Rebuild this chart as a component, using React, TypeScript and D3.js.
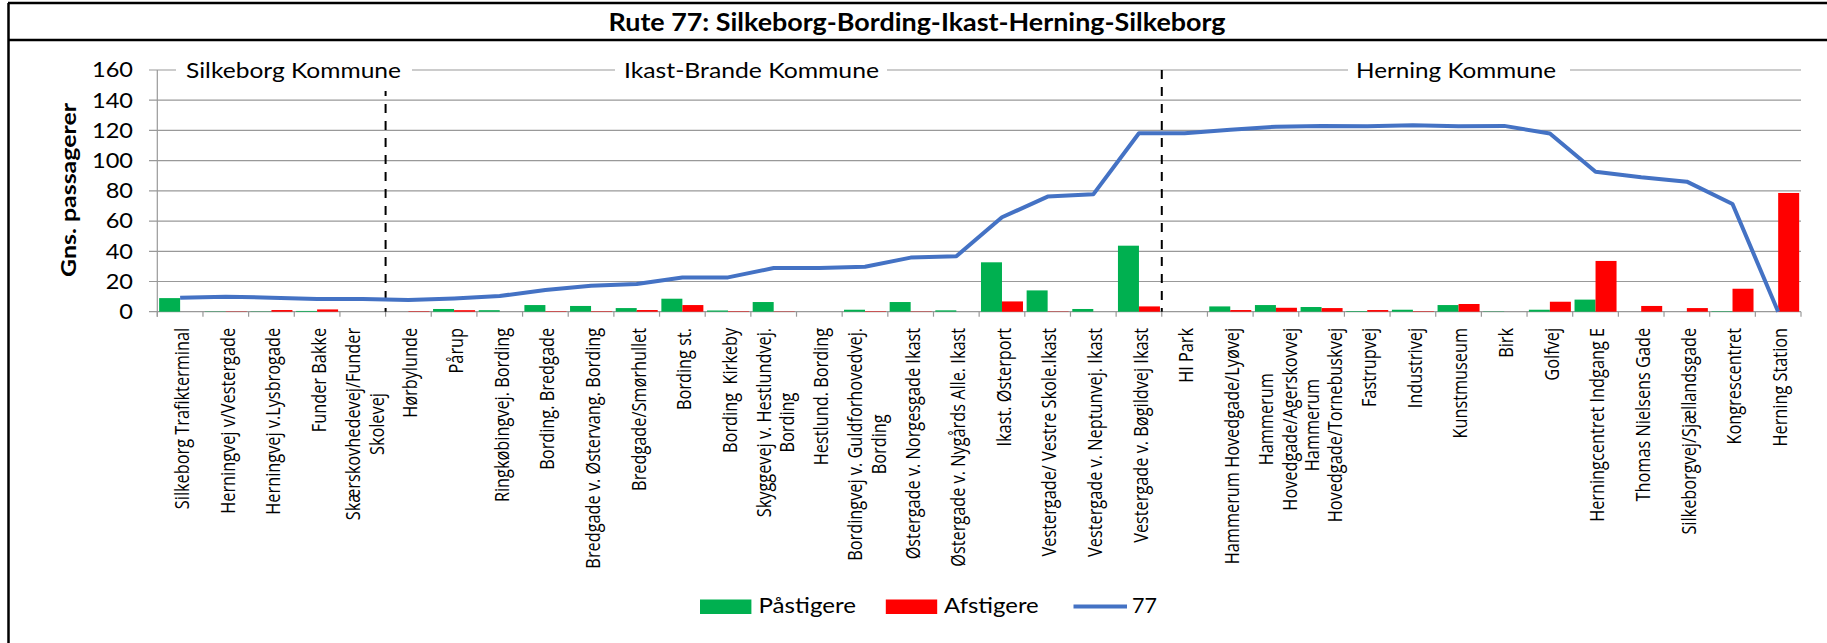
import React from 'react';
import * as d3 from 'd3';

// stops on the route, in driving order ("\n" = line break in the axis label)
const stops = [
  'Silkeborg Trafikterminal',
  'Herningvej v/Vestergade',
  'Herningvej v.Lysbrogade',
  'Funder Bakke',
  'Skærskovhedevej/Funder\nSkolevej',
  'Hørbylunde',
  'Pårup',
  'Ringkøbingvej. Bording',
  'Bording. Bredgade',
  'Bredgade v. Østervang. Bording',
  'Bredgade/Smørhullet',
  'Bording st.',
  'Bording  Kirkeby',
  'Skyggevej v. Hestlundvej.\nBording',
  'Hestlund. Bording',
  'Bordingvej v. Guldforhovedvej.\nBording',
  'Østergade v. Norgesgade Ikast',
  'Østergade v. Nygårds Alle. Ikast',
  'Ikast. Østerport',
  'Vestergade/ Vestre Skole.Ikast',
  'Vestergade v. Neptunvej. Ikast',
  'Vestergade v. Bøgildvej Ikast',
  'HI Park',
  'Hammerum Hovedgade/Lyøvej',
  'Hammerum\nHovedgade/Agerskovvej',
  'Hammerum\nHovedgade/Tornebuskvej',
  'Fastrupvej',
  'Industrivej',
  'Kunstmuseum',
  'Birk',
  'Golfvej',
  'Herningcentret Indgang E',
  'Thomas Nielsens Gade',
  'Silkeborgvej/Sjællandsgade',
  'Kongrescentret',
  'Herning Station',
];

const paastigere = [
  9, 0.2, 0.2, 0.5, 0, 0, 1.8, 1.0, 4.4, 3.8, 2.4, 8.6, 0.8, 6.4, 0, 1.3, 6.4, 0.9,
  32.7, 14.1, 1.8, 43.7, 0, 3.5, 4.4, 3.1, 0.4, 1.3, 4.4, 0.2, 1.3, 8, 0, 0, 0.3, 0,
];

const afstigere = [
  0, 0.2, 1.1, 1.5, 0, 0.3, 1.0, 0, 0.3, 0.3, 1.1, 4.4, 0.3, 0.2, 0, 0.3, 0.2, 0,
  6.8, 0.2, 0, 3.5, 0, 1.1, 2.6, 2.4, 1.1, 0.3, 5.1, 0, 6.6, 33.6, 3.8, 2.4, 15.2, 78.6,
];

const load77 = [
  9.3, 9.9, 9.3, 8.4, 8.4, 7.7, 8.8, 10.4, 14.4, 17.2, 18.3, 22.7, 22.7, 28.9, 28.9, 29.8,
  35.8, 36.7, 62.5, 76.2, 77.7, 118.1, 118.1, 120.5, 122.5, 123, 122.8, 123.5, 122.8, 123,
  118, 92.7, 89, 86.1, 71.3, 0,
];

const yTicks = [0, 20, 40, 60, 80, 100, 120, 140, 160];
const seriesNames = ['Påstigere', 'Afstigere', '77'];
const kommuner = ['Silkeborg Kommune', 'Ikast-Brande Kommune', 'Herning Kommune'];
// index of the first stop in each new kommune (dashed separators)
const borderStops = [5, 22];

const W = 1827;
const H = 643;
const GREEN = '#00B050';
const RED = '#FF0000';
const BLUE = '#4472C4';
const GRID = '#999999';

const labelFont = 16.3;
const labelFamily = "'Open Sans', sans-serif";
let measureCtx: CanvasRenderingContext2D | null = null;
function textWidth(s: string) {
  if (!measureCtx) {
    measureCtx = document.createElement('canvas').getContext('2d');
  }
  if (!measureCtx) return s.length * labelFont * 0.55;
  measureCtx.font = `${labelFont}px 'Open Sans'`;
  return measureCtx.measureText(s).width;
}

export default function App() {
  const x = d3.scaleBand<number>()
    .domain(d3.range(stops.length))
    .range([157.3, 1801])
    .paddingInner(0)
    .paddingOuter(0);

  const xs = d3.scaleBand<string>()
    .domain(['p', 'a'])
    .range([0, x.bandwidth()])
    .paddingOuter(0.087);

  const y = d3.scaleLinear().domain([0, 160]).range([311.7, 70]);

  const line = d3.line<number>()
    .x((_, i) => (x(i) as number) + x.bandwidth() / 2)
    .y(d => y(d));

  const x0 = x.range()[0];
  const x1 = x.range()[1];
  const boundaries = d3.range(stops.length + 1).map(i => x0 + i * x.step());

  // white boxes for the kommune labels on the 160 line
  const boxes = [
    { x: 176, w: 236, tx: 186, tl: 215 },
    { x: 615, w: 272, tx: 624, tl: 255 },
    { x: 1348, w: 222, tx: 1356, tl: 200 },
  ];

  const labelTop = 328;
  const lineH = 1.22 * labelFont;

  return (
    <svg width={W} height={H} style={{ position: 'absolute', left: 0, top: 0, background: '#fff' }}>
      <rect x={0} y={0} width={W} height={H} fill="#fff" />
      {/* frame */}
      <line x1={8.5} y1={3} x2={8.5} y2={H} stroke="#000" strokeWidth={2.5} />
      <line x1={8} y1={3} x2={W} y2={3} stroke="#000" strokeWidth={2.5} />
      <line x1={8} y1={40} x2={W} y2={40} stroke="#000" strokeWidth={2.5} />
      <text x={917} y={31} textAnchor="middle" fontFamily="Lato, sans-serif" fontWeight="bold"
        fontSize={24} textLength={617} lengthAdjust="spacingAndGlyphs">
        Rute 77: Silkeborg-Bording-Ikast-Herning-Silkeborg
      </text>

      {/* grid + y axis */}
      {yTicks.map(t => (
        <g key={t}>
          <line x1={149} x2={x1} y1={y(t)} y2={y(t)} stroke={GRID} strokeWidth={1.2} />
          <g transform={`translate(133,${y(t)}) scale(1.15,1)`}>
            <text x={0} dy="0.36em" textAnchor="end" fontFamily="Lato, sans-serif" fontSize={20.5}>{t}</text>
          </g>
        </g>
      ))}
      <line x1={x0} x2={x0} y1={y(160)} y2={y(0) + 5} stroke={GRID} strokeWidth={1.2} />
      {boundaries.map((b, i) => (
        <line key={i} x1={b} x2={b} y1={y(0)} y2={y(0) + 5} stroke={GRID} strokeWidth={1.2} />
      ))}
      <text transform={`translate(76,190) rotate(-90)`} textAnchor="middle" fontFamily="Lato, sans-serif"
        fontWeight="bold" fontSize={21.5} textLength={174} lengthAdjust="spacingAndGlyphs">
        Gns. passagerer
      </text>

      {/* dashed kommune borders */}
      {borderStops.map(i => (
        <line key={i} x1={x(i) as number} x2={x(i) as number} y1={y(160)} y2={y(0)}
          stroke="#000" strokeWidth={2} strokeDasharray="9,8" />
      ))}
      {kommuner.map((k, i) => (
        <g key={k}>
          <rect x={boxes[i].x} y={55} width={boxes[i].w} height={36} fill="#fff" />
          <text x={boxes[i].tx} y={78} fontFamily="Lato, sans-serif" fontSize={21}
            textLength={boxes[i].tl} lengthAdjust="spacingAndGlyphs">{k}</text>
        </g>
      ))}

      {/* bars */}
      {stops.map((_, i) => (
        <g key={i} transform={`translate(${x(i)},0)`}>
          <rect x={xs('p')} width={xs.bandwidth()} y={y(paastigere[i])}
            height={y(0) - y(paastigere[i])} fill={GREEN} />
          <rect x={xs('a')} width={xs.bandwidth()} y={y(afstigere[i])}
            height={y(0) - y(afstigere[i])} fill={RED} />
        </g>
      ))}
      <path d={line(load77) || ''} fill="none" stroke={BLUE} strokeWidth={4} strokeLinejoin="round" />

      {/* category labels */}
      {stops.map((s, i) => {
        const lines = s.split('\n');
        const maxLen = d3.max(lines, l => textWidth(l)) || 0;
        const cx = (x(i) as number) + x.bandwidth() / 2 + 2;
        const cy = labelTop + maxLen / 2;
        return (
          <g key={i} transform={`translate(${cx},${cy}) scale(1.2,1) rotate(-90)`}>
            <text textAnchor="middle" fontFamily={labelFamily} fontSize={labelFont} style={{ whiteSpace: 'pre' }}>
              {lines.map((l, j) => (
                <tspan key={j} x={0} y={(j - (lines.length - 1) / 2) * lineH} dy="0.35em">{l}</tspan>
              ))}
            </text>
          </g>
        );
      })}

      {/* legend */}
      <rect x={700} y={599.5} width={51.4} height={14.5} fill={GREEN} />
      <text x={758.5} y={613} fontFamily="Lato, sans-serif" fontSize={21} textLength={97.5}
        lengthAdjust="spacingAndGlyphs">{seriesNames[0]}</text>
      <rect x={885.8} y={599.5} width={51.4} height={14.5} fill={RED} />
      <text x={944} y={613} fontFamily="Lato, sans-serif" fontSize={21} textLength={94.7}
        lengthAdjust="spacingAndGlyphs">{seriesNames[1]}</text>
      <line x1={1073.5} x2={1127} y1={606.5} y2={606.5} stroke={BLUE} strokeWidth={4} />
      <text x={1132} y={613} fontFamily="Lato, sans-serif" fontSize={21} textLength={25}
        lengthAdjust="spacingAndGlyphs">{seriesNames[2]}</text>
    </svg>
  );
}
